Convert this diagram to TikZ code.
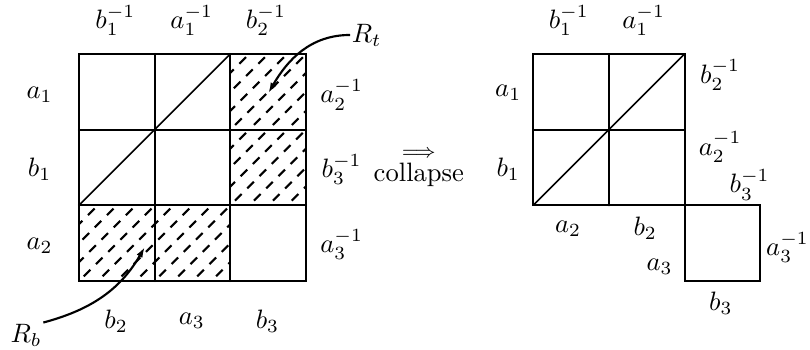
\documentclass[tikz,border=0pt]{standalone}
\usetikzlibrary{arrows.meta, positioning}
\usepackage{amsmath}

\begin{document}
\begin{tikzpicture}[
  grid/.style={thick, line cap=round},
  diag/.style={semithick},
  hatch/.style={thick, dash pattern=on 3.5pt off 3pt},
  lab/.style={inner sep=0.5pt},
  arrow/.style={-{Latex[length=4pt, width=2.5pt]}, thick},
]
  \useasboundingbox (-1.044,-0.911) rectangle (9.657,3.712);

  % hatched cells of the left square
  \foreach \cx/\cy in {2/2, 2/1, 0/0, 1/0} {
    \begin{scope}
      \clip (\cx,\cy) rectangle ++(1,1);
      \foreach \s in {-1.0,-0.75,...,1.0}
        \draw[hatch] (\cx+\s-0.1,\cy-0.1) -- ++(1.2,1.2);
    \end{scope}
  }

  % left square
  \draw[grid] (0,0) rectangle (3,3);
  \foreach \t in {1,2} {
    \draw[grid] (\t,0) -- (\t,3);
    \draw[grid] (0,\t) -- (3,\t);
  }
  \draw[diag] (0,1) -- (2,3);

  % collapsed square
  \draw[grid] (6,1) rectangle (8,3);
  \draw[grid] (7,1) -- (7,3);
  \draw[grid] (6,2) -- (8,2);
  \draw[grid] (8,1) rectangle (9,0);
  \draw[diag] (6,1) -- (8,3);

  % labels, left
  \node[lab] (lt1) at (0.48,3.44) {$b_1^{-1}$};
  \node[lab] (lt2) at (1.49,3.44) {$a_1^{-1}$};
  \node[lab] (lt3) at (2.47,3.44) {$b_2^{-1}$};
  \node[lab] (ll1) at (-0.52,2.46) {$a_1$};
  \node[lab] (ll2) at (-0.52,1.47) {$b_1$};
  \node[lab] (ll3) at (-0.52,0.46) {$a_2$};
  \node[lab] (lr1) at (3.47,2.46) {$a_2^{-1}$};
  \node[lab] (lr2) at (3.47,1.47) {$b_3^{-1}$};
  \node[lab] (lr3) at (3.47,0.48) {$a_3^{-1}$};
  \node[lab] (lb1) at (0.49,-0.53) {$b_2$};
  \node[lab] (lb2) at (1.49,-0.53) {$a_3$};
  \node[lab] (lb3) at (2.49,-0.53) {$b_3$};

  \node[lab] (rt) at (3.80,3.25) {$R_t$};
  \node[lab] (rb) at (-0.70,-0.72) {$R_b$};
  \coordinate (rttip) at (2.50,2.48);
  \coordinate (rbtip) at (0.87,0.45);
  \draw[arrow] (rt.west) to[out=180, in=60] (rttip);
  \draw[arrow] (rb.north east) to[out=15, in=240] (rbtip);

  \node (col) at (4.49,1.50) {$\stackrel{\Longrightarrow}{\mbox{collapse}}$};

  % labels, right
  \node[lab] (rt1) at (6.47,3.44) {$b_1^{-1}$};
  \node[lab] (rt2) at (7.46,3.44) {$a_1^{-1}$};
  \node[lab] (rl1) at (5.67,2.48) {$a_1$};
  \node[lab] (rl2) at (5.67,1.47) {$b_1$};
  \node[lab] (rr1) at (8.47,2.72) {$b_2^{-1}$};
  \node[lab] (rr2) at (8.47,1.77) {$a_2^{-1}$};
  \node[lab] (rr3) at (8.86,1.27) {$b_3^{-1}$};
  \node[lab] (rr4) at (9.36,0.44) {$a_3^{-1}$};
  \node[lab] (rb1) at (6.46,0.69) {$a_2$};
  \node[lab] (rb2) at (7.48,0.69) {$b_2$};
  \node[lab] (rb3) at (7.67,0.19) {$a_3$};
  \node[lab] (rb4) at (8.48,-0.30) {$b_3$};
\end{tikzpicture}
\end{document}
